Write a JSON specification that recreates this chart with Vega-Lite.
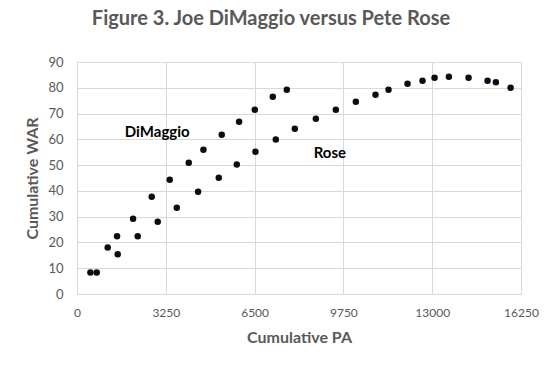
{
  "$schema": "https://vega.github.io/schema/vega-lite/v6.json",
  "autosize": {"type": "none"},
  "width": 444,
  "height": 232,
  "padding": {"left": 77, "top": 62, "right": 38, "bottom": 77},
  "background": "white",
  "title": {
    "text": "Figure 3. Joe DiMaggio versus Pete Rose",
    "font": "Lato",
    "fontSize": 20,
    "fontWeight": "bold",
    "color": "#595959",
    "anchor": "middle",
    "dx": -28,
    "offset": 27
  },
  "datasets": {
    "points": [
      {"player": "DiMaggio", "pa": 490, "war": 8.3},
      {"player": "DiMaggio", "pa": 1124, "war": 18.0},
      {"player": "DiMaggio", "pa": 1466, "war": 22.4},
      {"player": "DiMaggio", "pa": 2052, "war": 29.2},
      {"player": "DiMaggio", "pa": 2735, "war": 37.7},
      {"player": "DiMaggio", "pa": 3394, "war": 44.3},
      {"player": "DiMaggio", "pa": 4090, "war": 50.9},
      {"player": "DiMaggio", "pa": 4627, "war": 56.0},
      {"player": "DiMaggio", "pa": 5298, "war": 61.8},
      {"player": "DiMaggio", "pa": 5933, "war": 66.8},
      {"player": "DiMaggio", "pa": 6507, "war": 71.5},
      {"player": "DiMaggio", "pa": 7166, "war": 76.5},
      {"player": "DiMaggio", "pa": 7679, "war": 79.2},
      {"player": "Rose", "pa": 721, "war": 8.3},
      {"player": "Rose", "pa": 1490, "war": 15.4},
      {"player": "Rose", "pa": 2223, "war": 22.4},
      {"player": "Rose", "pa": 2955, "war": 28.0},
      {"player": "Rose", "pa": 3651, "war": 33.5},
      {"player": "Rose", "pa": 4432, "war": 39.7},
      {"player": "Rose", "pa": 5189, "war": 45.1},
      {"player": "Rose", "pa": 5848, "war": 50.2},
      {"player": "Rose", "pa": 6531, "war": 55.2},
      {"player": "Rose", "pa": 7276, "war": 59.9},
      {"player": "Rose", "pa": 7972, "war": 64.1},
      {"player": "Rose", "pa": 8741, "war": 68.0},
      {"player": "Rose", "pa": 9473, "war": 71.5},
      {"player": "Rose", "pa": 10205, "war": 74.6},
      {"player": "Rose", "pa": 10925, "war": 77.3},
      {"player": "Rose", "pa": 11401, "war": 79.2},
      {"player": "Rose", "pa": 12097, "war": 81.6},
      {"player": "Rose", "pa": 12646, "war": 82.7},
      {"player": "Rose", "pa": 13086, "war": 83.9},
      {"player": "Rose", "pa": 13611, "war": 84.3},
      {"player": "Rose", "pa": 14331, "war": 83.9},
      {"player": "Rose", "pa": 15026, "war": 82.7},
      {"player": "Rose", "pa": 15331, "war": 82.1},
      {"player": "Rose", "pa": 15869, "war": 80.0}
    ],
    "labels": [
      {"label": "DiMaggio", "pa": 2937, "war": 63.0},
      {"label": "Rose", "pa": 9253, "war": 54.7}
    ]
  },
  "encoding": {
    "x": {
      "field": "pa", "type": "quantitative",
      "scale": {"domain": [0, 16250], "nice": false, "zero": true},
      "axis": {
        "values": [0, 3250, 6500, 9750, 13000, 16250],
        "title": "Cumulative PA",
        "titleX": 222, "titleY": 43, "titleBaseline": "middle", "titleAnchor": "middle",
        "labelFontSize": 12, "labelPadding": 13, "format": "d"
      }
    },
    "y": {
      "field": "war", "type": "quantitative",
      "scale": {"domain": [0, 90], "nice": false},
      "axis": {
        "values": [0, 10, 20, 30, 40, 50, 60, 70, 80, 90],
        "title": "Cumulative WAR",
        "titleX": -44.5, "titleY": 116, "titleBaseline": "middle", "titleAnchor": "middle", "titleAngle": -90,
        "labelFontSize": 13, "labelPadding": 14
      }
    }
  },
  "layer": [
    {
      "data": {"name": "points"},
      "mark": {"type": "point", "filled": true, "shape": "circle", "size": 42, "color": "#0b0b16", "opacity": 1}
    },
    {
      "data": {"name": "labels"},
      "mark": {"type": "text", "font": "Lato", "fontSize": 15, "fontWeight": "bold", "color": "#000000", "align": "center", "baseline": "middle"},
      "encoding": {
        "text": {"field": "label"}
      }
    }
  ],
  "config": {
    "view": {"stroke": null},
    "axis": {
      "grid": true,
      "gridColor": "#d9d9d9",
      "gridWidth": 1,
      "gridOpacity": 1,
      "domain": true,
      "domainColor": "#d9d9d9",
      "domainWidth": 1,
      "ticks": false,
      "labelFont": "Lato",
      "labelColor": "#595959",
      "labelOverlap": false,
      "labelFlush": false,
      "titleFont": "Lato",
      "titleFontSize": 16,
      "titleFontWeight": "bold",
      "titleColor": "#595959"
    }
  }
}
